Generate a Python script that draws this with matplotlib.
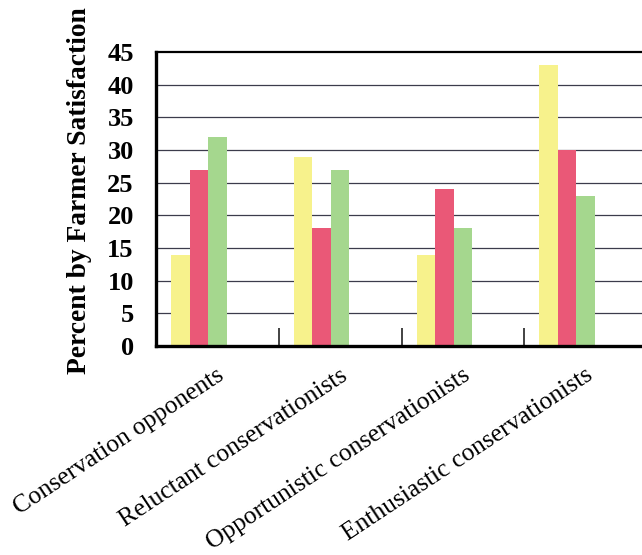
import numpy as np
import matplotlib.pyplot as plt

# farmer types and share (%) in each satisfaction class
categories = ["Conservation opponents", "Reluctant conservationists",
              "Opportunistic conservationists", "Enthusiastic conservationists"]
satisfied_yellow = [14, 29, 14, 43]
satisfied_red = [27, 18, 24, 30]
satisfied_green = [32, 27, 18, 23]
yticks = [0, 5, 10, 15, 20, 25, 30, 35, 40, 45]

plt.rcParams['font.family'] = ['Liberation Serif', 'DejaVu Serif']

fig = plt.figure(figsize=(6.42, 5.55), dpi=100)
# plot area runs a little past the right edge of the figure
ax = fig.add_axes([156/642, 1-346/555, (647-156)/642, (346-52)/555])

x = np.arange(len(categories))
w = 0.151
ax.bar(x - 2*w, satisfied_yellow, w, color='#f7f28c', zorder=2)
ax.bar(x - w, satisfied_red, w, color='#ea5877', zorder=2)
ax.bar(x, satisfied_green, w, color='#a5d78e', zorder=2)

ax.set_xlim(-0.5, 3.5)
ax.set_ylim(0, 45)
ax.set_yticks(yticks)
ax.set_yticklabels([str(t) for t in yticks], fontsize=19, fontweight='bold')
ax.tick_params(axis='y', length=0, pad=16)

for t in yticks[1:-1]:
    ax.axhline(t, color='#3c3c4c', lw=0.9, zorder=1)

# category labels, boundary ticks inside the axis
ax.set_xticks(x)
ax.set_xticklabels([])
ax.tick_params(axis='x', which='major', length=0)
ax.set_xticks([0.5, 1.5, 2.5], minor=True)
ax.tick_params(axis='x', which='minor', direction='in', length=13, width=1.2, color='#222222')
for i, c in enumerate(categories):
    ax.text(i + 0.04, -4.2, c, rotation=33.5, rotation_mode='anchor',
            ha='right', va='center', fontsize=18.4, transform=ax.transData)

ax.set_ylabel("Percent by Farmer Satisfaction", fontsize=19.8, fontweight='bold')
ax.yaxis.set_label_coords(-0.13, 0.53)

ax.spines['left'].set_linewidth(2.4)
ax.spines['bottom'].set_linewidth(2.4)
ax.spines['top'].set_linewidth(1.6)
ax.spines['right'].set_visible(False)

fig.savefig("out.png", dpi=100)
